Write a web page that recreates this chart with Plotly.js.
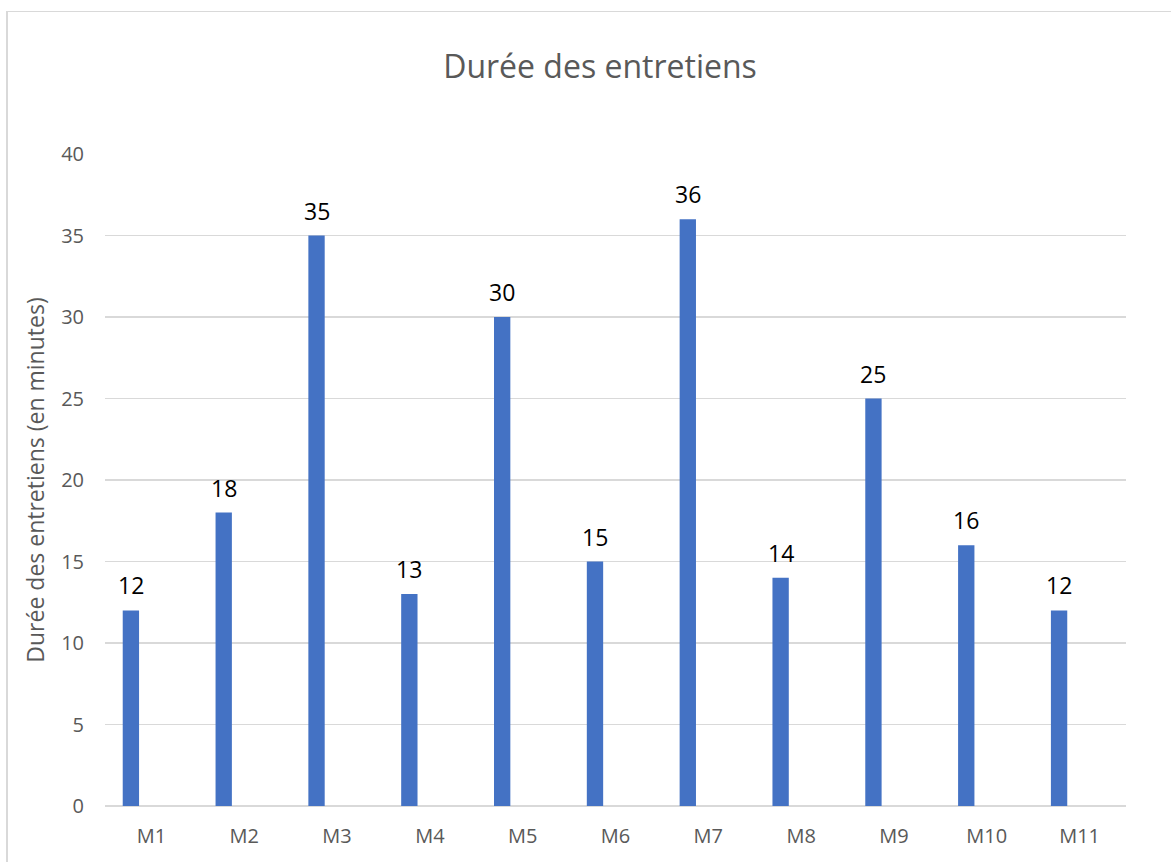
<!DOCTYPE html>
<html>
<head>
<meta charset="utf-8">
<script src="https://cdn.plot.ly/plotly-3.0.1.min.js"></script>
<style>
html,body{margin:0;padding:0;background:#fff;overflow:hidden;}
#frame{position:absolute;left:6px;top:11px;width:1200px;height:900px;border-left:2px solid #d9d9d9;border-top:1px solid #d9d9d9;}
#chart{position:absolute;left:0;top:0;width:1171px;height:862px;}
</style>
</head>
<body>
<div id="frame"></div>
<div id="chart"></div>
<script>
var categories = ["M1","M2","M3","M4","M5","M6","M7","M8","M9","M10","M11"];
var durations = [12,18,35,13,30,15,36,14,25,16,12];
var yTicks = [0,5,10,15,20,25,30,35,40];

var barOffset = -0.309;
var barWidth = 0.176;
var labelX = categories.map(function(c,i){return i + barOffset + barWidth/2;});

var trace = {
  type: 'bar',
  x: categories,
  y: durations,
  offset: barOffset,
  width: barWidth,
  marker: {color: '#4472c4', line: {width: 0}},
  hoverinfo: 'x+y'
};

var annotations = durations.map(function(v,i){
  return {
    x: labelX[i], y: v, xref: 'x', yref: 'y',
    text: String(v), showarrow: false,
    yanchor: 'bottom', xanchor: 'center', yshift: 7,
    font: {family: 'Open Sans, sans-serif', size: 23, color: '#000000'}
  };
});

var layout = {
  width: 1171, height: 862,
  margin: {l: 105, r: 45, t: 154, b: 56, pad: 0},
  paper_bgcolor: 'rgba(0,0,0,0)',
  plot_bgcolor: 'rgba(0,0,0,0)',
  showlegend: false,
  title: {
    text: 'Durée des entretiens',
    font: {family: 'Open Sans, sans-serif', size: 32, color: '#595959'},
    x: 0.5124, xanchor: 'center', y: 0.922, yanchor: 'middle'
  },
  xaxis: {
    type: 'category',
    range: [-0.5, 10.5],
    showgrid: false, zeroline: false, showline: false,
    ticks: '', ticklen: 0,
    ticklabelstandoff: 16,
    tickfont: {family: 'Open Sans, sans-serif', size: 20, color: '#595959'},
    fixedrange: true
  },
  yaxis: {
    range: [0, 40],
    tickvals: yTicks,
    ticktext: yTicks.map(String),
    showgrid: true, gridcolor: '#d9d9d9', gridwidth: 1.5,
    zeroline: true, zerolinecolor: '#d9d9d9', zerolinewidth: 1.5,
    showline: false, ticks: '',
    ticklabelstandoff: 20,
    tickfont: {family: 'Open Sans, sans-serif', size: 20, color: '#595959'},
    title: {
      text: 'Durée des entretiens (en minutes)',
      font: {family: 'Open Sans, sans-serif', size: 23, color: '#595959'},
      standoff: 10
    },
    fixedrange: true
  },
  annotations: annotations
};

Plotly.newPlot('chart', [trace], layout, {displayModeBar: false, staticPlot: true});
</script>
</body>
</html>
